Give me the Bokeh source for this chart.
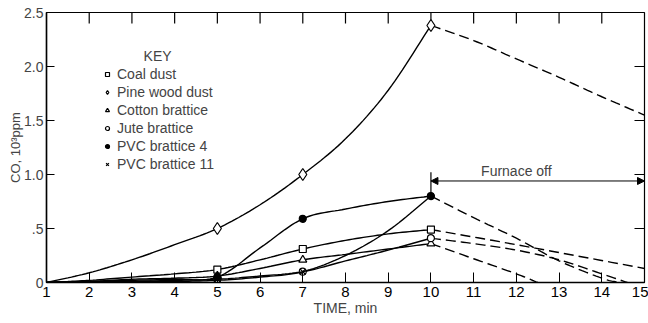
import numpy as np
from bokeh.plotting import figure
from bokeh.models import (FixedTicker, Legend, LegendItem, Label,
                          Arrow, NormalHead, Range1d)
from bokeh.embed import file_html
from bokeh.resources import INLINE

# ---------------- data ----------------
minutes = [1, 2, 3, 4, 5, 6, 7, 8, 9, 10]

# solid curves while the furnace is on (values in 10^3 ppm)
coal_on   = [0, 0.02, 0.05, 0.08, 0.12, 0.21, 0.31, 0.39, 0.45, 0.49]
pine_on   = [0, 0.09, 0.21, 0.35, 0.50, 0.72, 1.00, 1.33, 1.78, 2.38]
cotton_on = [0, 0.01, 0.03, 0.04, 0.06, 0.13, 0.21, 0.26, 0.31, 0.36]
jute_on   = [0, 0.01, 0.01, 0.02, 0.03, 0.06, 0.10, 0.20, 0.30, 0.41]
pvc4_on   = [0, 0.01, 0.02, 0.03, 0.05, 0.32, 0.59, 0.68, 0.75, 0.80]
pvc11_on  = [0, 0.00, 0.01, 0.01, 0.02, 0.05, 0.10, 0.25, 0.48, 0.80]

# dashed curves after the furnace is switched off
coal_off_t   = [10, 12, 15]
coal_off     = [0.49, 0.35, 0.13]
pine_off_t   = [10, 11, 12, 13, 14, 15]
pine_off     = [2.38, 2.24, 2.07, 1.90, 1.72, 1.55]
cotton_off_t = [10, 11, 12, 12.5]
cotton_off   = [0.36, 0.22, 0.08, 0.0]
jute_off_t   = [10, 11, 12, 13, 14, 14.6]
jute_off     = [0.41, 0.36, 0.30, 0.21, 0.08, 0.0]
pvc_off_t    = [10, 11, 12, 13, 14, 14.4]
pvc_off      = [0.80, 0.60, 0.41, 0.20, 0.04, 0.0]

# measured points (markers)
mark_t = [5, 7, 10]
coal_mk   = [0.12, 0.31, 0.49]
pine_mk   = [0.50, 1.00, 2.38]
cotton_mk = [0.06, 0.21, 0.36]
jute_mk   = [0.03, 0.10, 0.41]
pvc4_mk   = [0.05, 0.59, 0.80]
pvc11_mk  = [0.03, 0.10, 0.80]

x_ticks = list(range(1, 16))
y_ticks = [0, 0.5, 1.0, 1.5, 2.0, 2.5]
y_tick_labels = ["0", ".5", "1.0", "1.5", "2.0", "2.5"]

furnace_off_time = 10
furnace_end_time = 15
furnace_arrow_level = 0.94

FONT = "Liberation Sans"


def smooth(xs, ys, n=12):
    """Catmull-Rom rendering of a curve through the read points."""
    xs = np.asarray(xs, float)
    ys = np.asarray(ys, float)
    if len(xs) < 3:
        return xs, ys
    px = np.concatenate([[2 * xs[0] - xs[1]], xs, [2 * xs[-1] - xs[-2]]])
    py = np.concatenate([[2 * ys[0] - ys[1]], ys, [2 * ys[-1] - ys[-2]]])
    ox, oy = [], []
    t = np.linspace(0, 1, n, endpoint=False)
    for i in range(1, len(px) - 2):
        for arr, out in ((px, ox), (py, oy)):
            p0, p1, p2, p3 = arr[i - 1], arr[i], arr[i + 1], arr[i + 2]
            out.extend(0.5 * ((2 * p1) + (-p0 + p2) * t
                              + (2 * p0 - 5 * p1 + 4 * p2 - p3) * t ** 2
                              + (-p0 + 3 * p1 - 3 * p2 + p3) * t ** 3))
    ox.append(xs[-1])
    oy.append(ys[-1])
    return np.array(ox), np.array(oy)


p = figure(width=648, height=323, x_range=Range1d(1, 15), y_range=Range1d(0, 2.5),
           output_backend="svg", toolbar_location=None,
           min_border_left=46, min_border_right=4, min_border_top=12, min_border_bottom=41)
p.xgrid.visible = False
p.ygrid.visible = False
p.outline_line_color = "black"
p.outline_line_width = 1.2
p.background_fill_color = "white"
p.border_fill_color = "white"

# bottom axis
xa = p.xaxis[0]
xa.ticker = FixedTicker(ticks=x_ticks)
xa.minor_tick_line_color = None
xa.major_tick_in = 10
xa.major_tick_out = 0
xa.major_label_standoff = 4
xa.major_label_text_font = FONT
xa.major_label_text_font_size = "15px"
xa.major_label_text_color = "black"
xa.axis_line_width = 1.5
xa.axis_label = "TIME, min"
xa.axis_label_text_font = FONT
xa.axis_label_text_font_size = "14px"
xa.axis_label_text_font_style = "normal"
xa.axis_label_standoff = 0

# left axis (title tucked in beside the tick labels, as in the original)
ya = p.yaxis[0]
ya.ticker = FixedTicker(ticks=y_ticks)
ya.major_label_overrides = {float(v): s for v, s in zip(y_ticks, y_tick_labels)}
ya.minor_tick_line_color = None
ya.major_tick_in = 8
ya.major_tick_out = 0
ya.major_label_standoff = 3
ya.major_label_text_font = FONT
ya.major_label_text_font_size = "14px"
ya.axis_line_width = 1.5
ya.axis_label = "CO, 10³ppm"
ya.axis_label_text_font = FONT
ya.axis_label_text_font_size = "13px"
ya.axis_label_text_font_style = "normal"
ya.axis_label_standoff = -2

# inward frame ticks along the top and right edges
p.ray(x=x_ticks[1:-1], y=[y_ticks[-1]] * len(x_ticks[1:-1]), length=11, length_units="screen",
      angle=-np.pi / 2, line_color="black", line_width=1.2)
p.ray(x=[x_ticks[-1]] * len(y_ticks[1:-1]), y=y_ticks[1:-1], length=10, length_units="screen",
      angle=np.pi, line_color="black", line_width=1.2)

LW = 1.4
DASH = "10 5"

series = [
    ("Coal dust", coal_on, coal_off_t, coal_off, coal_mk, "square", 7),
    ("Pine wood dust", pine_on, pine_off_t, pine_off, pine_mk, "diamond", 12),
    ("Cotton brattice", cotton_on, cotton_off_t, cotton_off, cotton_mk, "triangle", 8),
    ("Jute brattice", jute_on, jute_off_t, jute_off, jute_mk, "circle", 7),
    ("PVC brattice 4", pvc4_on, pvc_off_t, pvc_off, pvc4_mk, "circle", 7),
    ("PVC brattice 11", pvc11_on, None, None, pvc11_mk, "x", 8),
]

items = []
for name, on, off_t, off, mk, marker, size in series:
    sx, sy = smooth(minutes, on)
    p.line(sx, sy, line_color="black", line_width=LW)
    if off_t is not None:
        dx, dy = smooth(off_t, off)
        p.line(dx, dy, line_color="black", line_width=LW, line_dash=DASH)
    filled = name == "PVC brattice 4"
    r = p.scatter(mark_t, mk, marker=marker, size=size, line_color="black", line_width=1.2,
                  fill_color="black" if filled else "white")
    items.append(LegendItem(label=name, renderers=[r]))

legend = Legend(items=items, location=(56, 110), orientation="vertical",
                label_text_font=FONT, label_text_font_size="14px",
                label_height=14, glyph_height=14, glyph_width=10, label_standoff=5,
                spacing=2, padding=0, margin=0,
                border_line_alpha=0, background_fill_alpha=0)
p.add_layout(legend, "center")

p.add_layout(Label(x=3.6, y=2.10, text="KEY", text_font=FONT, text_font_size="14px",
                   text_align="center", text_baseline="middle"))

# furnace-off annotation
p.segment(x0=[furnace_off_time], y0=[0.80], x1=[furnace_off_time], y1=[1.02],
          line_color="black", line_width=1.2)
p.add_layout(Arrow(x_start=furnace_off_time, y_start=furnace_arrow_level,
                   x_end=furnace_end_time, y_end=furnace_arrow_level,
                   line_color="black", line_width=1,
                   start=NormalHead(size=7, fill_color="black", line_color="black"),
                   end=NormalHead(size=7, fill_color="black", line_color="black")))
p.add_layout(Label(x=12.0, y=1.03, text="Furnace off", text_font=FONT, text_font_size="14px",
                   text_align="center", text_baseline="middle"))

open("out.html", "w").write(file_html(p, INLINE))
